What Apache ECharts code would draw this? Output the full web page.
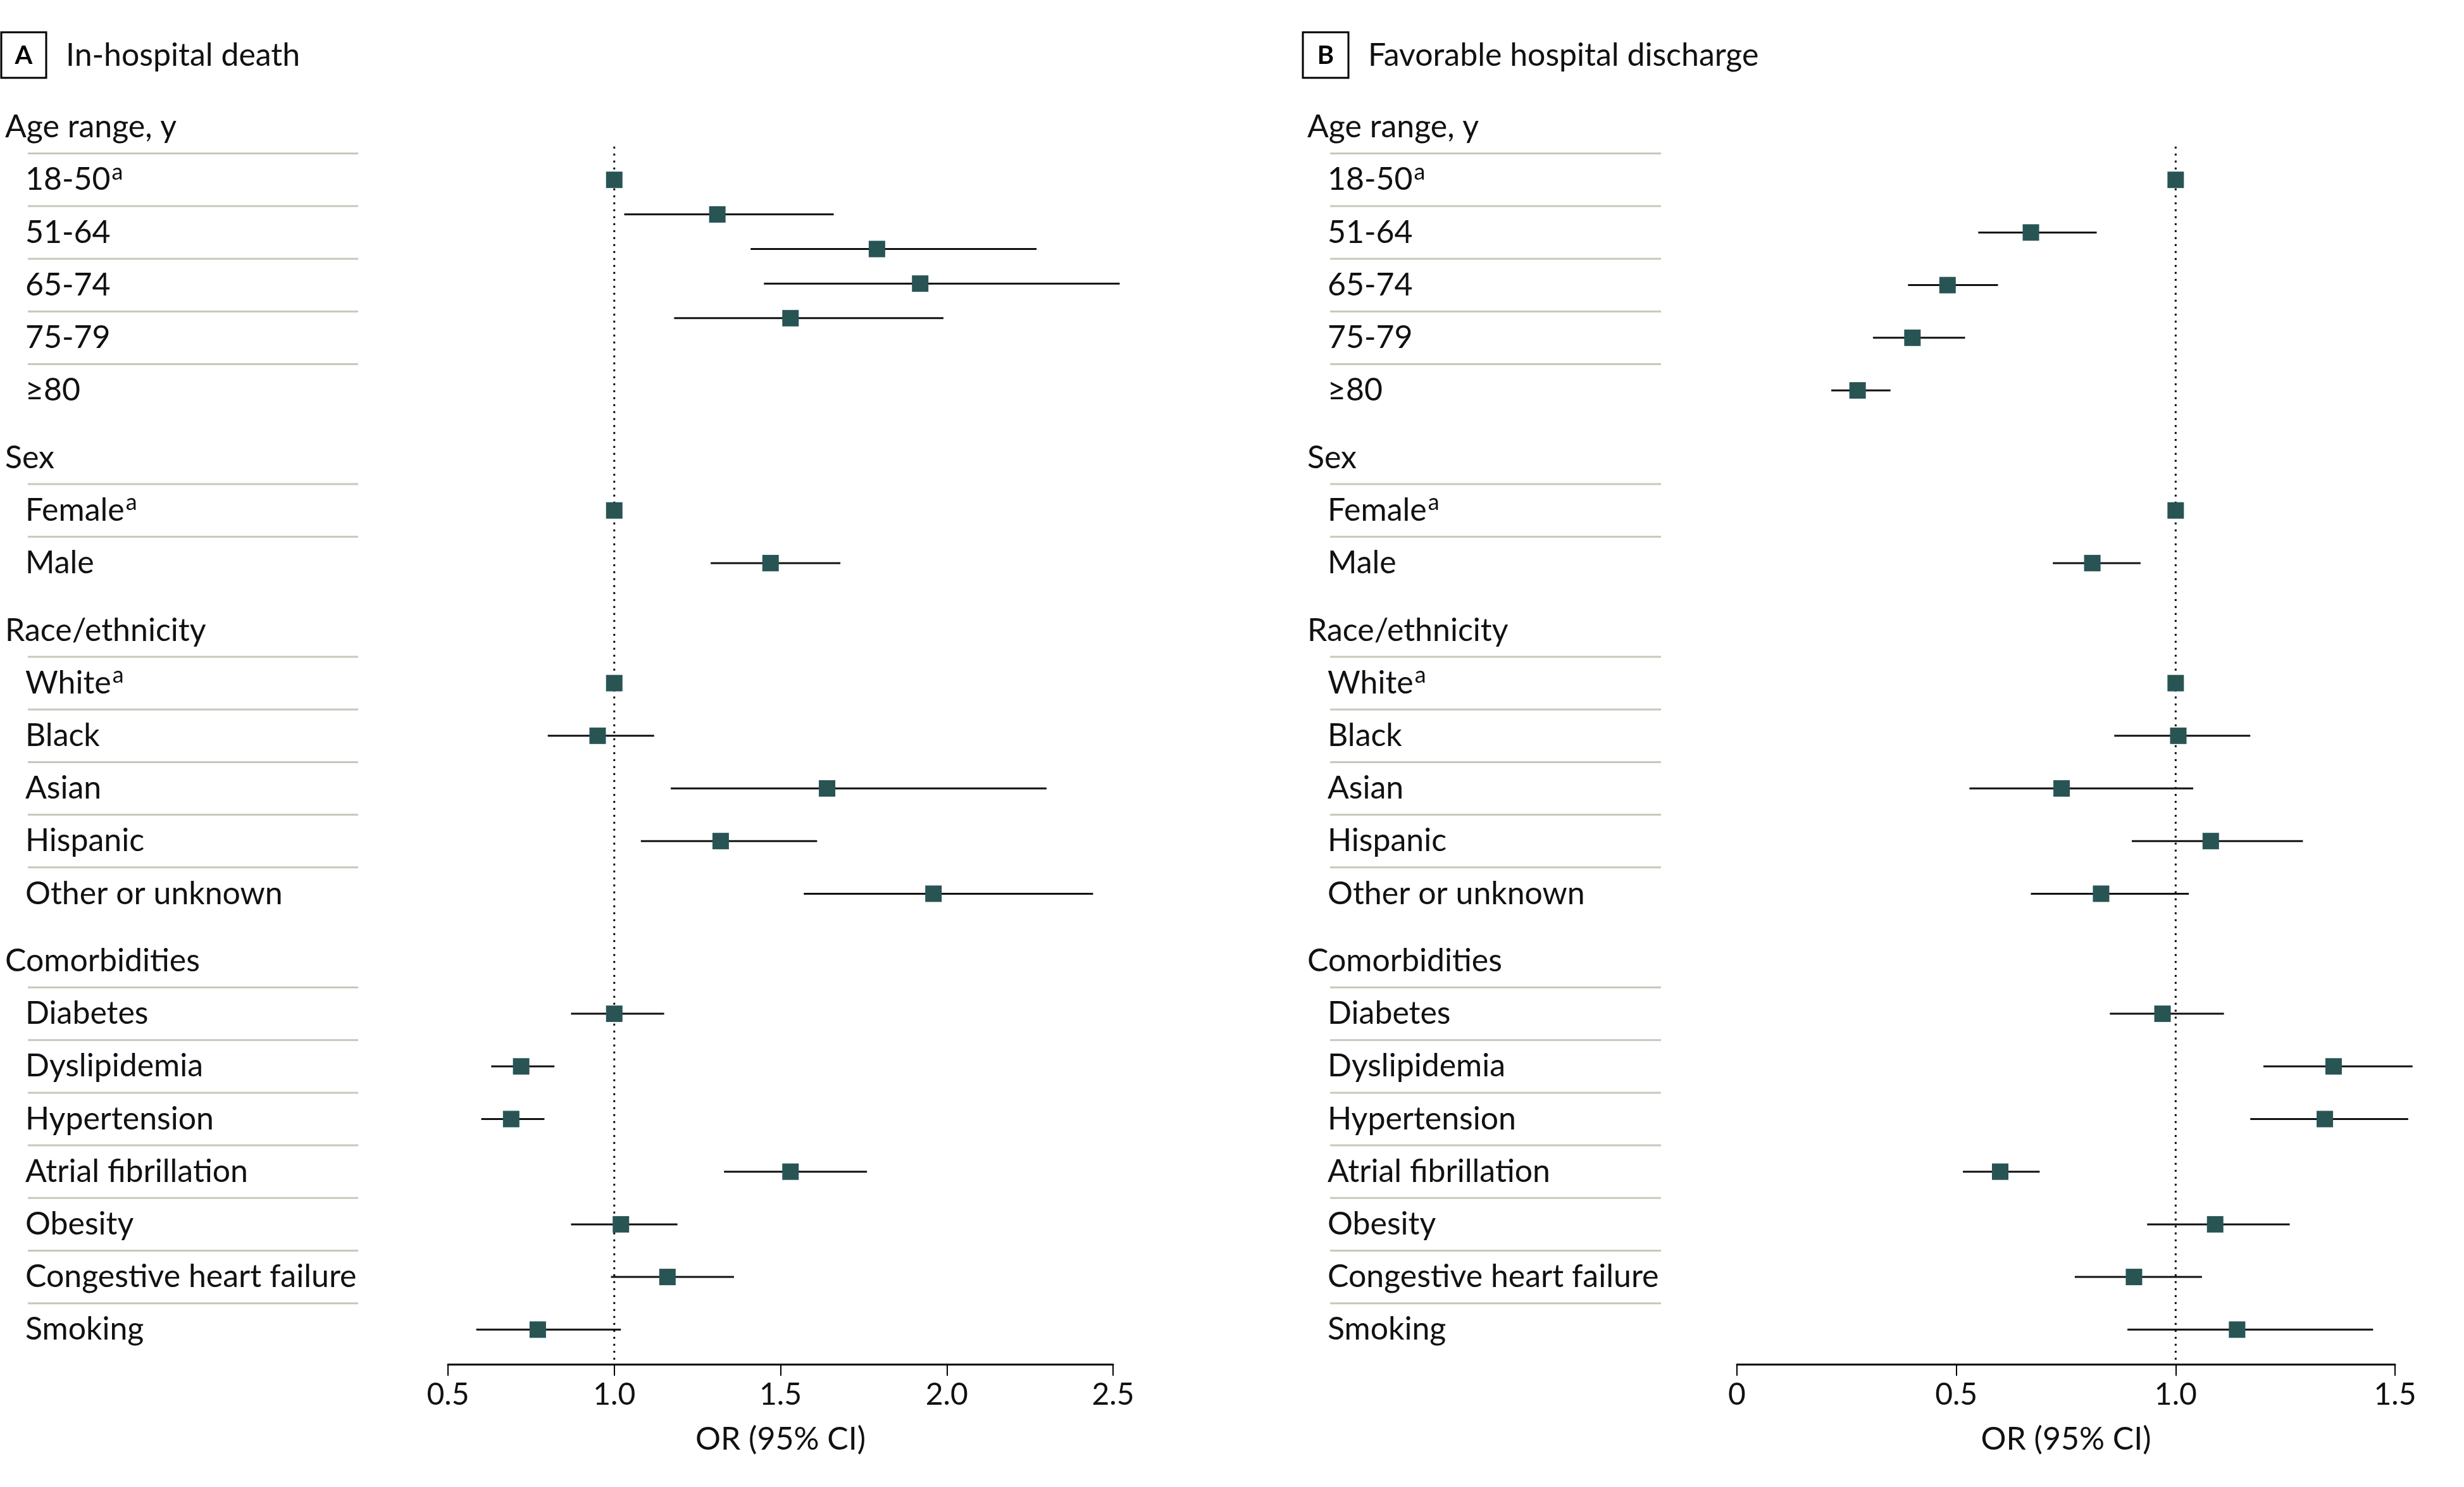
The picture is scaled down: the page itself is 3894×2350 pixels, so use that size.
<!DOCTYPE html>
<html>
<head>
<meta charset="utf-8">
<title>OR forest plots</title>
<script src="https://cdn.jsdelivr.net/npm/echarts@6/dist/echarts.min.js"></script>
<style>
  html, body { margin: 0; padding: 0; background: #fff; }
  #chart { width: 3894px; height: 2350px; }
</style>
</head>
<body>
<div id="chart"></div>
<script>
// 分组标题
var groupNames = ['Age range, y', 'Sex', 'Race/ethnicity', 'Comorbidities']
// 各组条目
var groupItems = [
  ['18-50', '51-64', '65-74', '75-79', '≥80'],
  ['Female', 'Male'],
  ['White', 'Black', 'Asian', 'Hispanic', 'Other or unknown'],
  ['Diabetes', 'Dyslipidemia', 'Hypertension', 'Atrial fibrillation', 'Obesity', 'Congestive heart failure', 'Smoking']
]
// 参照组 (footnote a)
var refItems = ['18-50', 'Female', 'White']

// A In-hospital death: OR and 95% CI
var deathOR   = [1, 1.31, 1.79, 1.92, 1.53, 1, 1.47, 1, 0.95, 1.64, 1.32, 1.96, 1.00, 0.72, 0.69, 1.53, 1.02, 1.16, 0.77]
var deathLow  = [null, 1.03, 1.41, 1.45, 1.18, null, 1.29, null, 0.80, 1.17, 1.08, 1.57, 0.87, 0.63, 0.60, 1.33, 0.87, 0.99, 0.585]
var deathHigh = [null, 1.66, 2.27, 2.52, 1.99, null, 1.68, null, 1.12, 2.30, 1.61, 2.44, 1.15, 0.82, 0.79, 1.76, 1.19, 1.36, 1.02]

// B Favorable hospital discharge: OR and 95% CI
var dischargeOR   = [1, 0.67, 0.48, 0.40, 0.275, 1, 0.81, 1, 1.006, 0.74, 1.08, 0.83, 0.97, 1.36, 1.34, 0.60, 1.09, 0.905, 1.14]
var dischargeLow  = [null, 0.55, 0.39, 0.31, 0.215, null, 0.72, null, 0.86, 0.53, 0.90, 0.67, 0.85, 1.20, 1.17, 0.515, 0.935, 0.77, 0.89]
var dischargeHigh = [null, 0.82, 0.595, 0.52, 0.35, null, 0.92, null, 1.17, 1.04, 1.29, 1.03, 1.11, 1.54, 1.53, 0.69, 1.26, 1.06, 1.45]

// 坐标轴刻度标签
var tickLabelsA = ['0.5', '1.0', '1.5', '2.0', '2.5']
var tickLabelsB = ['0', '0.5', '1.0', '1.5']

var FONT = 'Lato'
var ROW_GAP = 0.28        // extra space before a group title
var Y_MAX = 23.5          // rows, the x axis sits here
var AGE_PITCH_A = 0.657   // panel A draws its age marks closer together

// 行布局: 组标题 + 条目
var rows = []
var itemRow = []
var itemGroup = []
var u = 0
groupNames.forEach(function (g, gi) {
  if (gi > 0) u += 1 + ROW_GAP
  rows.push({ text: g, header: true, u: u })
  groupItems[gi].forEach(function (name, i) {
    u += 1
    rows.push({ text: name, header: false, u: u, sup: refItems.indexOf(name) >= 0 })
    itemRow.push(u)
    itemGroup.push(gi)
  })
})

var chart = echarts.init(document.getElementById('chart'))

function labelSeries(gridIdx) {
  return {
    type: 'custom',
    coordinateSystem: 'cartesian2d',
    xAxisIndex: gridIdx, yAxisIndex: gridIdx,
    clip: false,
    silent: true,
    data: rows.map(function (r) { return [0, r.u] }),
    renderItem: function (params, api) {
      var r = rows[params.dataIndex]
      var p = api.coord([0, r.u])
      var children = []
      var txt = r.sup ? '{n|' + r.text + '}{s|a}' : '{n|' + r.text + '}'
      children.push({
        type: 'text',
        x: r.header ? p[0] - 36 : p[0] - 4,
        y: p[1],
        style: {
          text: txt,
          verticalAlign: 'middle',
          align: 'left',
          fill: '#111',
          rich: {
            n: { fontSize: 50, fontFamily: FONT, fill: '#111', lineHeight: 60 },
            s: { fontSize: 36, fontFamily: FONT, fill: '#111', lineHeight: 60, verticalAlign: 'top', padding: [0, 0, 0, 2] }
          }
        }
      })
      if (!r.header) {
        var a = api.coord([0, r.u - 0.5])
        var b = api.coord([1, r.u - 0.5])
        children.push({
          type: 'line',
          shape: { x1: a[0], y1: a[1], x2: b[0], y2: b[1] },
          style: { stroke: '#c6c9bb', lineWidth: 3 }
        })
      }
      return { type: 'group', children: children }
    }
  }
}

function forestSeries(gridIdx, orArr, lowArr, highArr, agePitch) {
  var data = orArr.map(function (v, k) {
    var row = itemRow[k]
    if (agePitch && itemGroup[k] === 0) row = itemRow[0] + k * agePitch
    return [v, row, lowArr[k], highArr[k]]
  })
  return {
    type: 'custom',
    coordinateSystem: 'cartesian2d',
    xAxisIndex: gridIdx, yAxisIndex: gridIdx,
    clip: false,
    silent: true,
    z: 3,
    data: data,
    renderItem: function (params, api) {
      var d = data[params.dataIndex]
      var c = api.coord([d[0], d[1]])
      var children = []
      if (d[2] != null) {
        var lo = api.coord([d[2], d[1]])
        var hi = api.coord([d[3], d[1]])
        children.push({
          type: 'line',
          shape: { x1: lo[0], y1: lo[1], x2: hi[0], y2: hi[1] },
          style: { stroke: '#111', lineWidth: 3 }
        })
      }
      children.push({
        type: 'rect',
        shape: { x: c[0] - 13, y: c[1] - 13, width: 26, height: 26 },
        style: { fill: '#285454' }
      })
      return { type: 'group', children: children }
    }
  }
}

function refLine(gridIdx) {
  return {
    type: 'line',
    xAxisIndex: gridIdx, yAxisIndex: gridIdx,
    data: [[1, 0.37], [1, Y_MAX]],
    showSymbol: false,
    silent: true,
    z: 1,
    lineStyle: { color: '#000', width: 3, type: [3, 8] }
  }
}

function plotXAxis(gridIdx, min, max, labels) {
  return {
    type: 'value',
    gridIndex: gridIdx,
    position: 'bottom',
    min: min, max: max, interval: 0.5,
    splitLine: { show: false },
    axisLine: { show: true, onZero: false, lineStyle: { color: '#000', width: 3 } },
    axisTick: { show: true, length: 18, lineStyle: { color: '#000', width: 2 } },
    axisLabel: {
      fontSize: 48, fontFamily: FONT, color: '#111', margin: 24,
      formatter: function (v) { return labels[Math.round((v - min) / 0.5)] }
    },
    name: 'OR (95% CI)',
    nameLocation: 'middle',
    nameGap: 94,
    nameTextStyle: { fontSize: 50, fontFamily: FONT, color: '#111' }
  }
}

function hiddenX(gridIdx) {
  return { type: 'value', gridIndex: gridIdx, min: 0, max: 1, show: false }
}
function rowY(gridIdx) {
  return { type: 'value', gridIndex: gridIdx, min: 0, max: Y_MAX, inverse: true, show: false }
}

var gridTop = 201
var gridH = Y_MAX * 83.2

var option = {
  backgroundColor: '#fff',
  animation: false,
  grid: [
    { left: 44, top: gridTop, width: 522, height: gridH },     // A labels
    { left: 708, top: gridTop, width: 1051, height: gridH },   // A plot
    { left: 2102, top: gridTop, width: 523, height: gridH },   // B labels
    { left: 2745, top: gridTop, width: 1040, height: gridH }   // B plot
  ],
  xAxis: [hiddenX(0), plotXAxis(1, 0.5, 2.5, tickLabelsA), hiddenX(2), plotXAxis(3, 0, 1.5, tickLabelsB)],
  yAxis: [rowY(0), rowY(1), rowY(2), rowY(3)],
  graphic: [
    { type: 'rect', shape: { x: 2, y: 51, width: 71, height: 72 }, style: { fill: 'none', stroke: '#000', lineWidth: 3 } },
    { type: 'text', x: 37.5, y: 88, style: { text: 'A', fontSize: 40, fontWeight: 'bold', fontFamily: FONT, fill: '#000', align: 'center', verticalAlign: 'middle' } },
    { type: 'text', x: 104, y: 88, style: { text: 'In-hospital death', fontSize: 50, fontFamily: FONT, fill: '#111', verticalAlign: 'middle' } },
    { type: 'rect', shape: { x: 2059, y: 51, width: 72, height: 72 }, style: { fill: 'none', stroke: '#000', lineWidth: 3 } },
    { type: 'text', x: 2095, y: 88, style: { text: 'B', fontSize: 40, fontWeight: 'bold', fontFamily: FONT, fill: '#000', align: 'center', verticalAlign: 'middle' } },
    { type: 'text', x: 2162, y: 88, style: { text: 'Favorable hospital discharge', fontSize: 50, fontFamily: FONT, fill: '#111', verticalAlign: 'middle' } }
  ],
  series: [
    labelSeries(0),
    refLine(1),
    forestSeries(1, deathOR, deathLow, deathHigh, AGE_PITCH_A),
    labelSeries(2),
    refLine(3),
    forestSeries(3, dischargeOR, dischargeLow, dischargeHigh, null)
  ]
}

chart.setOption(option)
window.addEventListener('resize', chart.resize)
</script>
</body>
</html>
